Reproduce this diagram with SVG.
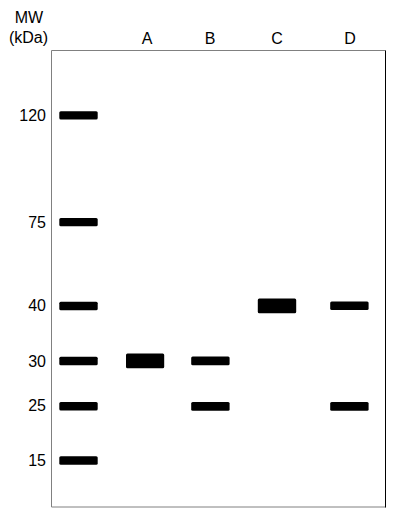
<svg xmlns="http://www.w3.org/2000/svg" width="400" height="522" viewBox="0 0 400 522">
<style>
text{font-family:"Liberation Sans",Arial,sans-serif;font-size:16px;fill:#000}
.mw{text-anchor:end}
.ln{text-anchor:middle}
.b{fill:#000}
</style>
<rect width="400" height="522" fill="#fff"/>
<g id="frame">
<path d="M51.5 50.5 V507 H385.5" fill="none" stroke="#808080" stroke-width="1"/>
<path d="M51.5 50.5 H385.5" fill="none" stroke="#808080" stroke-width="1"/>
<path d="M385.5 50.5 V507.5" fill="none" stroke="#000" stroke-width="1"/>
</g>
<g id="axis-title">
<text x="29" y="23.3" class="ln">MW</text>
<text x="28.5" y="43.3" class="ln">(kDa)</text>
</g>
<g id="lane-labels">
<text x="147" y="43.5" class="ln">A</text>
<text x="210" y="43.5" class="ln">B</text>
<text x="277" y="43.5" class="ln">C</text>
<text x="350" y="43.5" class="ln">D</text>
</g>
<g id="mw-labels">
<text x="46" y="120.7" class="mw">120</text>
<text x="46" y="227.5" class="mw">75</text>
<text x="46" y="311" class="mw">40</text>
<text x="46" y="366.5" class="mw">30</text>
<text x="46" y="411.3" class="mw">25</text>
<text x="46" y="465.5" class="mw">15</text>
</g>
<g id="ladder">
<rect class="b" x="59.3" y="111.3" width="38.4" height="8.3" rx="1.5"/>
<rect class="b" x="59.3" y="217.9" width="38.4" height="8.3" rx="1.5"/>
<rect class="b" x="59.3" y="301.7" width="38.4" height="8.5" rx="1.5"/>
<rect class="b" x="59.3" y="356.7" width="38.4" height="8.5" rx="1.5"/>
<rect class="b" x="59.3" y="401.9" width="38.4" height="8.6" rx="1.5"/>
<rect class="b" x="59.3" y="456.2" width="38.4" height="8.6" rx="1.5"/>
</g>
<g id="lane-A">
<rect class="b" x="126" y="353.4" width="38.2" height="14.9" rx="1.5"/>
</g>
<g id="lane-B">
<rect class="b" x="191.2" y="356.6" width="38.4" height="8.7" rx="1.5"/>
<rect class="b" x="191.2" y="402" width="38.4" height="8.7" rx="1.5"/>
</g>
<g id="lane-C">
<rect class="b" x="257.8" y="298.4" width="38.4" height="14.9" rx="1.5"/>
</g>
<g id="lane-D">
<rect class="b" x="330.2" y="301.4" width="38.4" height="8.7" rx="1.5"/>
<rect class="b" x="330.2" y="402" width="38.4" height="8.7" rx="1.5"/>
</g>
</svg>
